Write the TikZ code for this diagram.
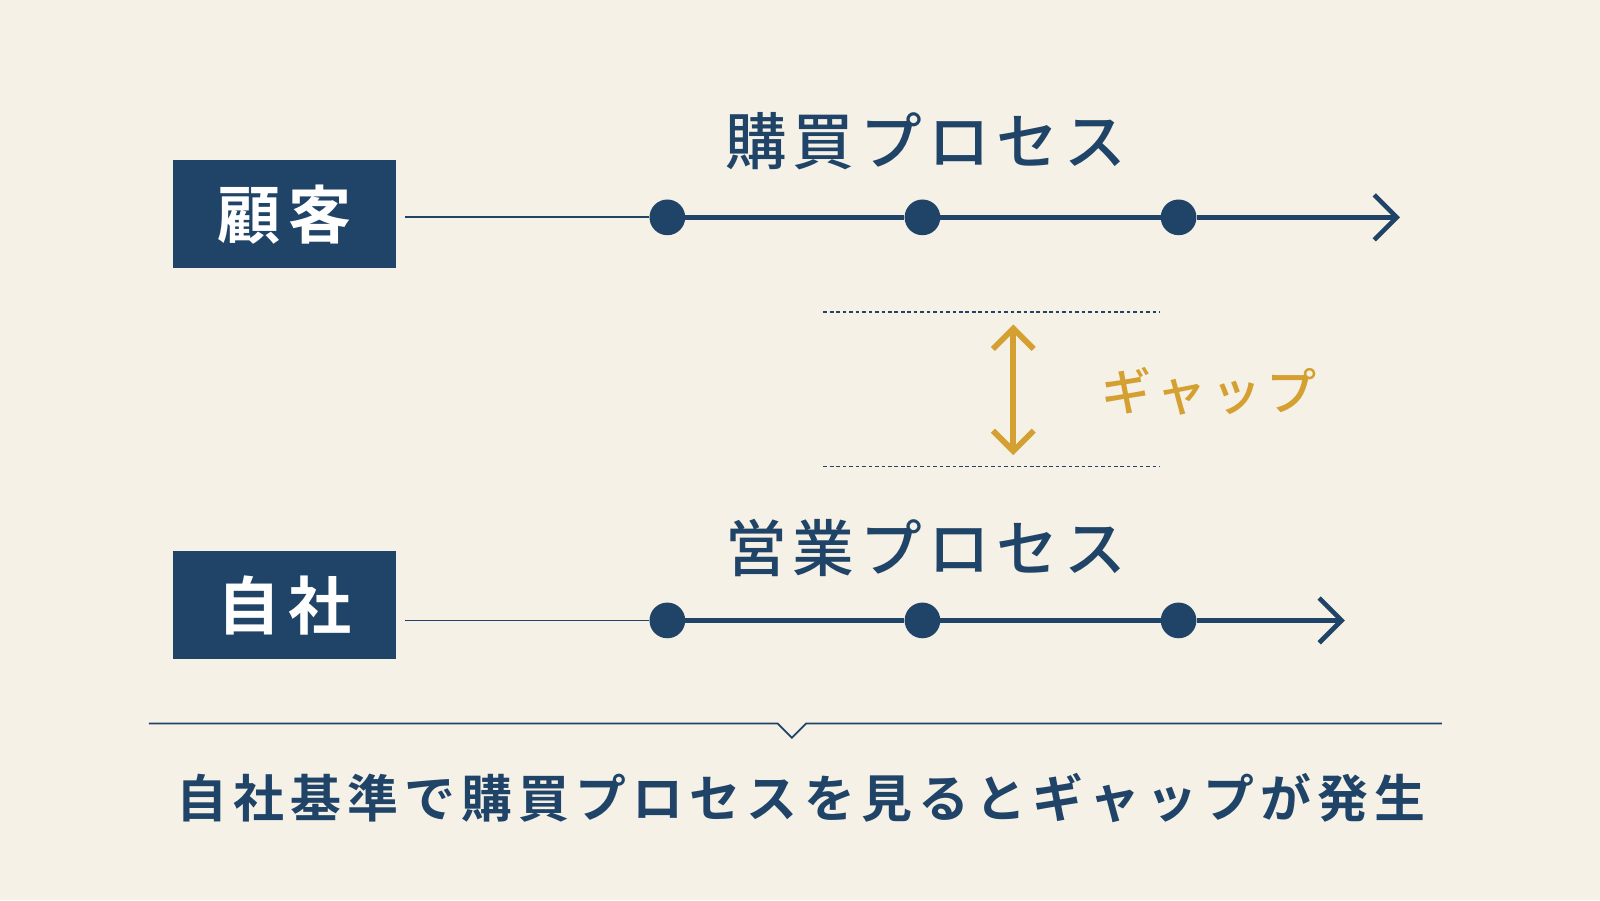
\documentclass[tikz,border=0pt]{standalone}
\usepackage{fontspec}
\newfontfamily\jp{Noto Sans CJK JP}
\newfontfamily\jpb{Noto Sans CJK JP Bold}[LetterSpace=12]
\newfontfamily\jpm{Noto Sans CJK JP Medium}[LetterSpace=10]
\usetikzlibrary{arrows.meta}
\definecolor{navy}{HTML}{1F4468}
\definecolor{bg}{HTML}{F6F1E6}
\definecolor{gold}{HTML}{D4A032}
\begin{document}
\begin{tikzpicture}[x=0.05cm,y=-0.05cm,
  lbl/.style={fill=navy,text=white,minimum width=218*0.05cm,minimum height=106*0.05cm,font=\jpb\fontsize{88}{88}\selectfont,inner sep=0},
  ttl/.style={text=navy,font=\jpm\fontsize{86}{86}\selectfont},
  dot/.style={circle,fill=navy,minimum size=35*0.05cm,inner sep=0},
  thin/.style={navy,line width=2.4pt},
  thick/.style={navy,line width=6.5pt},
  tip/.style={-{Straight Barb[length=11mm,width=22mm,line width=6.5pt]}}]
\fill[bg] (0,0) rectangle (1568,882);
\useasboundingbox (0,0) rectangle (1568,882);
% top
\node[lbl] (c) at (279,210) {顧客};
\node[ttl] (t1) at (907,138) {購買プロセス};
\node[dot] (a1) at (654,213) {};
\node[dot] (a2) at (904,213) {};
\node[dot] (a3) at (1155,213) {};
\coordinate (a0) at (397,213);
\coordinate (ae) at (1372,213);
\draw[thin] (a0) -- (a1);
\draw[thick] (a1) -- (a2);
\draw[thick] (a2) -- (a3);
\draw[thick,tip] (a3) -- (ae);
% bottom
\node[lbl] (s) at (279,593) {自社};
\node[ttl] (t2) at (907,537) {営業プロセス};
\node[dot] (b1) at (654,608) {};
\node[dot] (b2) at (904,608) {};
\node[dot] (b3) at (1155,608) {};
\coordinate (b0) at (397,608);
\coordinate (be) at (1318,608);
\draw[thin] (b0) -- (b1);
\draw[thick] (b1) -- (b2);
\draw[thick] (b2) -- (b3);
\draw[thick,tip] (b3) -- (be);
% gap
\coordinate (d1) at (807,306); \coordinate (d2) at (1137,306);
\coordinate (d3) at (807,457); \coordinate (d4) at (1137,457);
\draw[navy,line width=2.2pt,dash pattern=on 5pt off 4pt] (d1) -- (d2);
\draw[navy,line width=2.2pt,dash pattern=on 5pt off 4pt] (d3) -- (d4);
\coordinate (g1) at (993,318); \coordinate (g2) at (993,446);
\draw[gold,line width=8pt,{Straight Barb[length=10mm,width=20mm,line width=8pt]}-{Straight Barb[length=10mm,width=20mm,line width=8pt]}] (g1) -- (g2);
\node[text=gold,font=\jpm\fontsize{70}{70}\selectfont] (gap) at (1185,383) {ギャップ};
% bottom bracket
\coordinate (l0) at (146,709); \coordinate (l1) at (762,709); \coordinate (l2) at (776,723);
\coordinate (l3) at (790,709); \coordinate (l4) at (1413,709);
\draw[navy,line width=2.4pt] (l0) -- (l1) -- (l2) -- (l3) -- (l4);
\node[text=navy,font=\jpb\fontsize{71}{71}\selectfont] (msg) at (785,782) {自社基準で購買プロセスを見るとギャップが発生};
\end{tikzpicture}
\end{document}
